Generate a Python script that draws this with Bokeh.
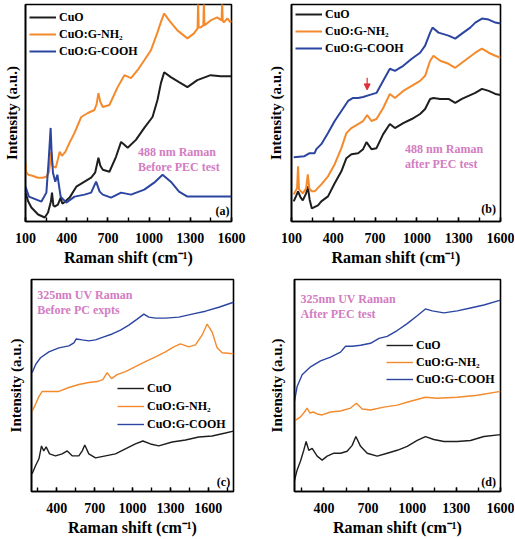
from bokeh.plotting import figure
from bokeh.models import Range1d, FixedTicker, Legend, LegendItem, Label, Arrow, NormalHead
from bokeh.layouts import column, row
from bokeh.embed import file_html
from bokeh.resources import INLINE

SERIES = ["CuO", "CuO:G-NH\u2082", "CuO:G-COOH"]
COLORS = ["#1e1e1e", "#f48a2c", "#2b45a0"]
PINK = "#d27cc2"
FONT = "Liberation Serif"

# ---------------- panel (a): 488 nm, before PEC ----------------
a_cuo_x = [100, 120, 143, 192, 240, 264, 285, 293, 303, 312, 336, 356, 368, 380, 421, 470, 530, 578, 607, 631, 645, 663, 711, 759, 796, 820, 844, 904, 965, 1025, 1061, 1086, 1110, 1158, 1218, 1279, 1351, 1448, 1521, 1593, 1600]
a_cuo_y = [29, 20, 14, 7, 4, 9, 20, 29, 16, 15, 17, 24, 18, 19, 24, 35, 40, 44, 49, 64, 56, 52, 50, 65, 80, 77, 74, 82, 94, 105, 122, 139, 150, 145, 140, 135, 142, 147, 146, 146, 146]
a_nh2_x = [100, 105, 120, 150, 190, 225, 252, 272, 288, 296, 320, 335, 349, 365, 390, 420, 457, 506, 554, 602, 618, 631, 645, 663, 711, 771, 820, 868, 916, 965, 1013, 1061, 1090, 1110, 1146, 1206, 1279, 1327, 1353, 1357, 1361, 1375, 1395, 1399, 1403, 1448, 1496, 1528, 1532, 1536, 1544, 1570, 1593, 1600]
a_nh2_y = [59, 50, 47, 46, 44, 44, 45, 50, 70, 56, 54, 62, 70, 66, 70, 79, 89, 105, 109, 112, 118, 129, 120, 115, 117, 135, 147, 144, 152, 162, 172, 190, 202, 209, 202, 192, 184, 189, 194, 222, 195, 195, 197, 222, 197, 202, 205, 202, 222, 202, 200, 204, 200, 202]
a_cooh_x = [100, 125, 216, 252, 269, 283, 290, 300, 317, 332, 345, 356, 397, 457, 530, 578, 614, 640, 663, 723, 796, 868, 965, 1037, 1098, 1158, 1218, 1279, 1424, 1600]
a_cooh_y = [35, 25, 20, 29, 62, 94, 70, 49, 40, 47, 35, 25, 19, 25, 27, 29, 40, 30, 27, 24, 29, 27, 32, 39, 47, 40, 30, 25, 25, 25]

# ---------------- panel (b): 488 nm, after PEC ----------------
b_cuo_x = [116, 135, 147, 165, 181, 205, 217, 230, 246, 290, 314, 362, 410, 458, 494, 530, 578, 614, 638, 674, 710, 758, 806, 842, 902, 963, 1023, 1059, 1095, 1119, 1167, 1227, 1275, 1323, 1371, 1419, 1467, 1515, 1563, 1600]
b_cuo_y = [20, 26, 30, 24, 21, 28, 35, 22, 13, 16, 20, 25, 38, 50, 63, 67, 68, 72, 79, 72, 73, 87, 97, 93, 98, 102, 107, 112, 122, 123, 122, 122, 118, 122, 125, 128, 132, 130, 127, 126]
b_nh2_x = [116, 140, 147, 154, 181, 205, 217, 228, 246, 266, 314, 362, 410, 458, 494, 530, 578, 614, 643, 674, 710, 758, 806, 842, 902, 963, 1023, 1059, 1095, 1119, 1167, 1227, 1275, 1323, 1371, 1419, 1467, 1515, 1563, 1600]
b_nh2_y = [27, 33, 55, 32, 28, 33, 47, 33, 30, 30, 37, 45, 57, 73, 88, 93, 97, 100, 106, 100, 102, 113, 127, 123, 130, 135, 140, 145, 160, 165, 160, 157, 153, 158, 163, 168, 172, 168, 165, 163]
b_cooh_x = [116, 193, 230, 266, 278, 314, 362, 410, 458, 506, 542, 578, 614, 662, 710, 758, 806, 842, 902, 963, 1023, 1059, 1095, 1112, 1155, 1227, 1275, 1323, 1383, 1419, 1467, 1515, 1563, 1600]
b_cooh_y = [64, 65, 68, 68, 72, 77, 88, 100, 110, 120, 123, 123, 124, 126, 128, 140, 152, 150, 155, 162, 168, 175, 188, 193, 188, 185, 182, 187, 193, 198, 202, 201, 198, 197]

# ---------------- panel (c): 325 nm UV, before PC ----------------
c_cuo_x = [205, 232, 259, 279, 297, 316, 343, 390, 443, 483, 522, 575, 602, 622, 654, 707, 786, 865, 944, 1023, 1082, 1142, 1208, 1314, 1420, 1525, 1631, 1736, 1800]
c_cuo_y = [18, 26, 33, 46, 41, 45, 38, 36, 38, 41, 36, 36, 41, 47, 38, 34, 36, 38, 43, 48, 51, 48, 46, 50, 52, 55, 56, 59, 61]
c_nh2_x = [205, 232, 259, 285, 338, 417, 496, 575, 654, 720, 765, 799, 834, 878, 944, 1023, 1102, 1182, 1261, 1327, 1380, 1446, 1499, 1552, 1591, 1631, 1670, 1710, 1800]
c_nh2_y = [81, 88, 96, 101, 101, 101, 105, 108, 110, 111, 113, 120, 114, 118, 121, 126, 131, 136, 141, 146, 149, 146, 148, 158, 169, 161, 145, 140, 139]
c_cooh_x = [205, 232, 271, 338, 417, 496, 536, 554, 602, 654, 707, 773, 839, 905, 971, 1037, 1090, 1129, 1182, 1261, 1367, 1472, 1578, 1684, 1800]
c_cooh_y = [120, 128, 135, 141, 145, 147, 150, 154, 153, 152, 153, 156, 159, 163, 168, 174, 179, 176, 175, 175, 176, 179, 182, 186, 191]

# ---------------- panel (d): 325 nm UV, after PEC ----------------
d_cuo_x = [200, 218, 241, 263, 279, 297, 320, 354, 388, 422, 468, 513, 558, 592, 617, 649, 694, 762, 830, 898, 966, 1034, 1090, 1147, 1215, 1306, 1396, 1487, 1600]
d_cuo_y = [11, 22, 31, 42, 51, 42, 44, 36, 32, 36, 39, 39, 41, 47, 56, 46, 39, 36, 39, 42, 46, 52, 56, 53, 51, 51, 52, 56, 58]
d_nh2_x = [200, 241, 268, 286, 304, 327, 354, 388, 445, 513, 581, 621, 660, 717, 807, 898, 989, 1090, 1170, 1306, 1442, 1600]
d_nh2_y = [72, 76, 81, 85, 80, 81, 79, 78, 81, 82, 85, 90, 84, 83, 86, 88, 92, 96, 95, 96, 98, 102]
d_cooh_x = [200, 218, 252, 309, 377, 445, 513, 547, 592, 649, 717, 774, 830, 898, 966, 1034, 1090, 1136, 1215, 1306, 1396, 1487, 1600]
d_cooh_y = [92, 107, 119, 127, 133, 137, 142, 148, 148, 149, 151, 156, 158, 164, 171, 179, 186, 184, 182, 184, 187, 190, 195]

X_TICKS_AB = [100, 400, 700, 1000, 1300, 1600]
X_TICKS_CD = [400, 700, 1000, 1300, 1600]
MINOR_AB = list(range(100, 1601, 150))
MINOR_C = list(range(250, 1751, 150))
MINOR_D = list(range(250, 1601, 150))


def panel(width, height, borders, ylab_standoff, xr, yr, ticks, minor, series, lw,
          notes, tag, legend_pos, legend_spacing):
    left, right, top, bottom = borders
    p = figure(width=width, height=height, output_backend="svg",
               toolbar_location=None, x_range=Range1d(*xr), y_range=Range1d(*yr),
               min_border_left=left, min_border_right=right,
               min_border_top=top, min_border_bottom=bottom)
    p.xgrid.visible = False
    p.ygrid.visible = False
    p.background_fill_color = "white"
    p.outline_line_color = "black"
    p.outline_line_width = 1.6
    p.outline_line_alpha = 1

    xa = p.xaxis[0]
    xa.ticker = FixedTicker(ticks=ticks, minor_ticks=minor)
    xa.major_tick_in = 4
    xa.major_tick_out = 0
    xa.minor_tick_in = 4
    xa.minor_tick_out = 0
    xa.major_tick_line_width = 1.4
    xa.minor_tick_line_width = 1.4
    xa.axis_line_width = 1.6
    xa.major_label_text_font = FONT
    xa.major_label_text_font_style = "bold"
    xa.major_label_text_font_size = "14px"
    xa.major_label_text_color = "black"
    xa.major_label_standoff = 11
    xa.axis_label = "Raman shift (cm\u207b\u00b9)"
    xa.axis_label_text_font = FONT
    xa.axis_label_text_font_style = "bold"
    xa.axis_label_text_font_size = "16px"
    xa.axis_label_text_color = "black"
    xa.axis_label_standoff = 3

    ya = p.yaxis[0]
    ya.ticker = FixedTicker(ticks=[])
    ya.major_label_standoff = 0
    ya.major_tick_out = 0
    ya.major_tick_in = 0
    ya.minor_tick_out = 0
    ya.axis_line_width = 1.6
    ya.axis_label = "Intensity (a.u.)"
    ya.axis_label_text_font = FONT
    ya.axis_label_text_font_style = "bold"
    ya.axis_label_text_font_size = "15px"
    ya.axis_label_text_color = "black"
    ya.axis_label_standoff = ylab_standoff

    items = []
    for (xs, ys), name, col in zip(series, SERIES, COLORS):
        r = p.line(xs, ys, line_color=col, line_width=lw)
        items.append(LegendItem(label=name, renderers=[r]))

    leg = Legend(items=items, location=legend_pos, orientation="vertical",
                 background_fill_alpha=0, border_line_alpha=0,
                 label_text_font=FONT, label_text_font_style="bold",
                 label_text_font_size="12px", label_text_color="black",
                 glyph_width=27, glyph_height=16, label_height=16,
                 spacing=legend_spacing, padding=2, margin=0, label_standoff=3)
    p.add_layout(leg)

    for (tx, ty, txt) in notes:
        p.add_layout(Label(x=tx, y=ty, text=txt, text_font=FONT,
                           text_font_style="bold", text_font_size="12px",
                           text_color=PINK, text_baseline="middle"))
    tx, ty, txt = tag
    p.add_layout(Label(x=tx, y=ty, text=txt, text_font=FONT,
                       text_font_style="bold", text_font_size="12px",
                       text_color="black", text_baseline="middle",
                       text_align="center"))
    return p


pa = panel(260, 268, (24, 29, 4, 47), 6, (100, 1600), (0, 218), X_TICKS_AB, MINOR_AB,
           [(a_cuo_x, a_cuo_y), (a_nh2_x, a_nh2_y), (a_cooh_x, a_cooh_y)], 2.0,
           [(919, 70, "488 nm Raman"), (919, 55, "Before PEC test")],
           (1535, 11, "(a)"), (2, 160), 1)

pb = panel(254, 268, (31, 14, 4, 47), 8, (100, 1600), (0, 216), X_TICKS_AB, MINOR_AB,
           [(b_cuo_x, b_cuo_y), (b_nh2_x, b_nh2_y), (b_cooh_x, b_cooh_y)], 2.0,
           [(915, 72, "488 nm Raman"), (915, 57, "after PEC test")],
           (1515, 12, "(b)"), (2, 163), 1)
arrow_shift = 643
pb.add_layout(Arrow(end=NormalHead(size=6, line_color="#e0303a", fill_color="#e0303a"),
                    x_start=arrow_shift, y_start=143, x_end=arrow_shift, y_end=131,
                    line_color="#e0303a", line_width=1.2))

pc = panel(260, 270, (31, 27, 11, 46), 8, (200, 1800), (0, 214), X_TICKS_CD, MINOR_C,
           [(c_cuo_x, c_cuo_y), (c_nh2_x, c_nh2_y), (c_cooh_x, c_cooh_y)], 1.4,
           [(245, 198, "325nm UV Raman"), (245, 183, "Before PC expts")],
           (1721, 10, "(c)"), (84, 57), 2)

pd_ = panel(254, 270, (34, 14, 10, 46), 10, (200, 1600), (0, 216), X_TICKS_CD, MINOR_D,
            [(d_cuo_x, d_cuo_y), (d_nh2_x, d_nh2_y), (d_cooh_x, d_cooh_y)], 1.4,
            [(241, 196, "325nm UV Raman"), (241, 181, "After PEC test")],
            (1519, 10, "(d)"), (90, 102), 1)

layout = column(row(pa, pb), row(pc, pd_))
open("out.html", "w").write(file_html(layout, INLINE))
